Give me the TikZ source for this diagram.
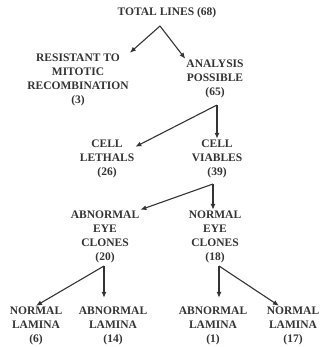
\documentclass[tikz,border=0pt]{standalone}
\usepackage{fontspec}
\setmainfont{Liberation Serif}
\usepackage{tikz}
\usetikzlibrary{calc,positioning,arrows.meta}

\begin{document}
\begin{tikzpicture}[x=1pt,y=1pt,lbl/.style={align=center,inner sep=1pt,text=black!80,font=\fontsize{11.5}{14}\selectfont\bfseries},arr/.style={-{Latex[length=6pt,width=5pt]},line width=1.1pt,draw=black!80}]
      \useasboundingbox (0,0) rectangle (320,-347);
      \node[lbl] (tot) at (167,-13) {TOTAL LINES (68)};

      \node[lbl] (res) at (78,-80) {RESISTANT TO\\MITOTIC\\RECOMBINATION\\(3)};
      \node[lbl] (ana) at (215,-79) {ANALYSIS\\POSSIBLE\\(65)};

      \node[lbl] (leth) at (107,-159) {CELL\\LETHALS\\(26)};
      \node[lbl] (viab) at (217,-159) {CELL\\VIABLES\\(39)};

      \node[lbl] (abeye) at (105,-237) {ABNORMAL\\EYE\\CLONES\\(20)};
      \node[lbl] (noeye) at (215,-237) {NORMAL\\EYE\\CLONES\\(18)};

      \node[lbl] (nl6) at (36,-326) {NORMAL\\LAMINA\\(6)};
      \node[lbl] (al14) at (113,-326) {ABNORMAL\\LAMINA\\(14)};
      \node[lbl] (al1) at (213,-326) {ABNORMAL\\LAMINA\\(1)};
      \node[lbl] (nl17) at (293,-326) {NORMAL\\LAMINA\\(17)};

      \coordinate (s1) at (160,-26);
      \coordinate (s2) at (217,-105);
      \coordinate (s3) at (213,-184);
      \coordinate (s4) at (104,-266);
      \coordinate (s5) at (219,-266);

      \draw[arr] (s1) -- (res.north east);
      \draw[arr] (s1) -- (ana.north west);
      \draw[arr] (s2) -- ([yshift=-8]leth.north east);
      \draw[arr] (s2) -- (s2 |- viab.north);
      \draw[arr] (s3) -- (abeye.north east);
      \draw[arr] (s3) -- (s3 |- noeye.north);
      \draw[arr] (s4) -- (nl6.north);
      \draw[arr,shorten >=8pt] (s4) -- (s4 |- al14.north);
      \draw[arr,shorten >=8pt] (s5) -- (s5 |- al1.north);
      \draw[arr] (s5) -- ([xshift=-14]nl17.north);
\end{tikzpicture}
\end{document}
